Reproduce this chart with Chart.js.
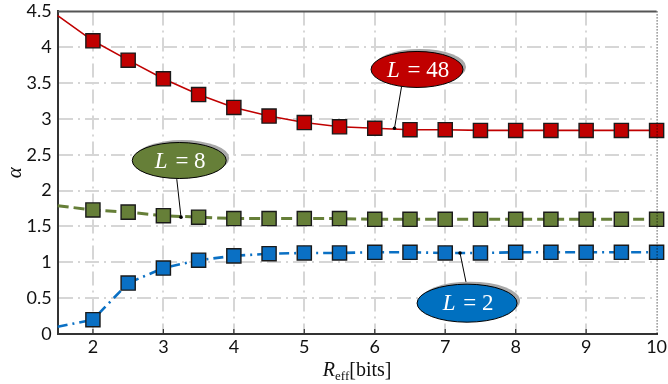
<!DOCTYPE html>
<html>
<head>
<meta charset="utf-8">
<script src="https://cdn.jsdelivr.net/npm/chart.js@4/dist/chart.umd.min.js"></script>
<style>
  html, body { margin: 0; padding: 0; background: #fff; }
  #wrap { width: 668px; height: 384px; position: relative; }
</style>
</head>
<body>
<div id="wrap"><canvas id="alphaChart"></canvas></div>
<script>
// Effective rate (bits) on the x axis, one entry per sample
const rEff = [1.5, 2, 2.5, 3, 3.5, 4, 4.5, 5, 5.5, 6, 6.5, 7, 7.5, 8, 8.5, 9, 9.5, 10];

// alpha for each L (first entry is where the curve enters the plot, no marker)
const alphaL48 = [4.44, 4.09, 3.82, 3.56, 3.34, 3.16, 3.04, 2.95, 2.89, 2.87, 2.85, 2.85, 2.84, 2.84, 2.84, 2.84, 2.84, 2.84];
const alphaL8  = [1.79, 1.73, 1.70, 1.65, 1.63, 1.61, 1.61, 1.61, 1.61, 1.60, 1.60, 1.60, 1.60, 1.60, 1.60, 1.60, 1.60, 1.60];
const alphaL2  = [0.10, 0.20, 0.71, 0.92, 1.03, 1.09, 1.12, 1.13, 1.13, 1.14, 1.14, 1.13, 1.13, 1.14, 1.14, 1.14, 1.14, 1.14];

const xTicks = [2, 3, 4, 5, 6, 7, 8, 9, 10];
const yTicks = [0, 0.5, 1, 1.5, 2, 2.5, 3, 3.5, 4, 4.5];

const toPoints = ys => rEff.map((x, i) => ({ x: x, y: ys[i] }));

// Callout bubbles: label, colour, centre, pointer start and tip (data coords)
const callouts = [
  { text: '48', color: '#c00000', c: [6.60, 3.69], rx: 46, ry: 18, from: [6.38, 3.45], to: [6.28, 2.87] },
  { text: '8',  color: '#667f38', c: [3.225, 2.42], rx: 47, ry: 18, from: [3.19, 2.16], to: [3.25, 1.63] },
  { text: '2',  color: '#0070c0', c: [7.31, 0.43], rx: 50, ry: 19, from: [7.30, 0.70], to: [7.21, 1.13] }
];

const markerSize = ctx => (ctx.raw && ctx.raw.x < 2 ? 0 : 10);

const decorations = {
  id: 'decorations',
  afterDatasetsDraw(chart) {
    const { ctx, chartArea: a, scales: { x, y } } = chart;
    ctx.save();
    // top frame line
    ctx.strokeStyle = '#555';
    ctx.lineWidth = 2;
    ctx.beginPath();
    ctx.moveTo(a.left, a.top);
    ctx.lineTo(a.right, a.top);
    ctx.stroke();
    // small inward ticks on the x axis
    ctx.strokeStyle = '#333';
    ctx.lineWidth = 1.2;
    xTicks.slice(0, -1).forEach(v => {
      const px = x.getPixelForValue(v);
      ctx.beginPath();
      ctx.moveTo(px, a.bottom);
      ctx.lineTo(px, a.bottom - 5);
      ctx.stroke();
    });
    // dotted right edge
    ctx.strokeStyle = '#000';
    ctx.lineWidth = 1;
    ctx.setLineDash([1, 2]);
    ctx.beginPath();
    ctx.moveTo(a.right + 0.5, a.top);
    ctx.lineTo(a.right + 0.5, a.bottom);
    ctx.stroke();
    ctx.setLineDash([]);

    callouts.forEach(c => {
      const cx = x.getPixelForValue(c.c[0]);
      const cy = y.getPixelForValue(c.c[1]);
      const fx = x.getPixelForValue(c.from[0]);
      const fy = y.getPixelForValue(c.from[1]);
      const tx = x.getPixelForValue(c.to[0]);
      const ty = y.getPixelForValue(c.to[1]);
      // pointer
      ctx.strokeStyle = '#000';
      ctx.lineWidth = 1;
      ctx.beginPath();
      ctx.moveTo(fx, fy);
      ctx.lineTo(tx, ty);
      ctx.stroke();
      ctx.fillStyle = '#000';
      ctx.beginPath();
      ctx.arc(tx, ty, 1.8, 0, Math.PI * 2);
      ctx.fill();
      // shadow
      ctx.fillStyle = '#a8a8a8';
      ctx.beginPath();
      ctx.ellipse(cx + 3, cy - 2.5, c.rx, c.ry, 0, 0, Math.PI * 2);
      ctx.fill();
      // bubble
      ctx.fillStyle = c.color;
      ctx.beginPath();
      ctx.ellipse(cx, cy, c.rx, c.ry, 0, 0, Math.PI * 2);
      ctx.fill();
      ctx.strokeStyle = '#000';
      ctx.stroke();
      // text "L = n"
      ctx.fillStyle = '#fff';
      ctx.textBaseline = 'middle';
      const italic = 'italic 23px "Liberation Serif", serif';
      const upright = '23px "Liberation Serif", serif';
      ctx.font = italic;
      const wL = ctx.measureText('L').width;
      ctx.font = upright;
      const rest = ' = ' + c.text;
      const wR = ctx.measureText(rest).width;
      let sx = cx - (wL + wR) / 2;
      ctx.textAlign = 'left';
      ctx.font = italic;
      ctx.fillText('L', sx, cy + 1);
      ctx.font = upright;
      ctx.fillText(rest, sx + wL + 2, cy + 1);
    });

    // axis titles
    ctx.fillStyle = '#111';
    ctx.textBaseline = 'alphabetic';
    ctx.textAlign = 'left';
    const xc = (a.left + a.right) / 2;
    const base = 376;
    ctx.font = 'italic 20px "Liberation Serif", serif';
    const wR = ctx.measureText('R').width;
    ctx.font = '13px "Liberation Serif", serif';
    const wE = ctx.measureText('eff').width;
    ctx.font = '20px "Liberation Serif", serif';
    const wB = ctx.measureText('[bits]').width;
    let px = xc - (wR + wE + wB) / 2;
    ctx.font = 'italic 20px "Liberation Serif", serif';
    ctx.fillText('R', px, base);
    ctx.font = '13px "Liberation Serif", serif';
    ctx.fillText('eff', px + wR, base + 4);
    ctx.font = '20px "Liberation Serif", serif';
    ctx.fillText('[bits]', px + wR + wE, base);

    ctx.translate(15, (a.top + a.bottom) / 2);
    ctx.rotate(-Math.PI / 2);
    ctx.textAlign = 'center';
    ctx.textBaseline = 'middle';
    ctx.font = 'italic 21px "Liberation Serif", serif';
    ctx.fillText('\u03b1', 0, 0);
    ctx.restore();
  }
};

const gridDash = [14, 5, 2, 5];

new Chart(document.getElementById('alphaChart'), {
  type: 'line',
  data: {
    datasets: [
      {
        label: 'L = 48',
        data: toPoints(alphaL48),
        borderColor: '#c00000',
        borderWidth: 1.6,
        backgroundColor: '#c00000',
        pointStyle: 'rect',
        pointRadius: markerSize,
        pointBorderColor: '#1a1a1a',
        pointBorderWidth: 1.4
      },
      {
        label: 'L = 8',
        data: toPoints(alphaL8),
        borderColor: '#667f38',
        borderWidth: 3,
        borderDash: [11, 5],
        backgroundColor: '#667f38',
        pointStyle: 'rect',
        pointRadius: markerSize,
        pointBorderColor: '#1a1a1a',
        pointBorderWidth: 1.4
      },
      {
        label: 'L = 2',
        data: toPoints(alphaL2),
        borderColor: '#0a70c4',
        borderWidth: 2.6,
        borderDash: [10, 5, 2, 5],
        backgroundColor: '#0a70c4',
        pointStyle: 'rect',
        pointRadius: markerSize,
        pointBorderColor: '#1a1a1a',
        pointBorderWidth: 1.4
      }
    ]
  },
  options: {
    responsive: true,
    maintainAspectRatio: false,
    animation: false,
    clip: false,
    layout: { padding: { top: 11, right: 10, left: 0, bottom: 0 } },
    plugins: { legend: { display: false }, tooltip: { enabled: false } },
    scales: {
      x: {
        type: 'linear',
        min: 1.5,
        max: 10,
        afterBuildTicks: s => { s.ticks = xTicks.map(v => ({ value: v })); },
        afterFit: s => { s.height = 50; s.paddingLeft = 0; s.paddingRight = 0; },
        grid: {
          drawTicks: false,
          lineWidth: 2,
          color: c => (c.tick && c.tick.value === 10 ? 'rgba(0,0,0,0)' : '#d6d6d6')
        },
        border: { color: '#333', width: 2, dash: gridDash },
        ticks: {
          padding: 2,
          color: '#111',
          font: { family: 'Lato, sans-serif', size: 18 },
          callback: v => String(v)
        }
      },
      y: {
        min: 0,
        max: 4.5,
        afterBuildTicks: s => { s.ticks = yTicks.map(v => ({ value: v })); },
        afterFit: s => { s.width = 57.7; s.paddingTop = 0; s.paddingBottom = 0; },
        grid: {
          drawTicks: false,
          lineWidth: 2,
          color: c => (c.tick && c.tick.value === 4.5 ? 'rgba(0,0,0,0)' : '#d6d6d6')
        },
        border: { color: '#333', width: 2, dash: gridDash },
        ticks: {
          padding: 6,
          color: '#111',
          font: { family: 'Lato, sans-serif', size: 18 },
          callback: v => String(v)
        }
      }
    }
  },
  plugins: [decorations]
});
</script>
</body>
</html>
